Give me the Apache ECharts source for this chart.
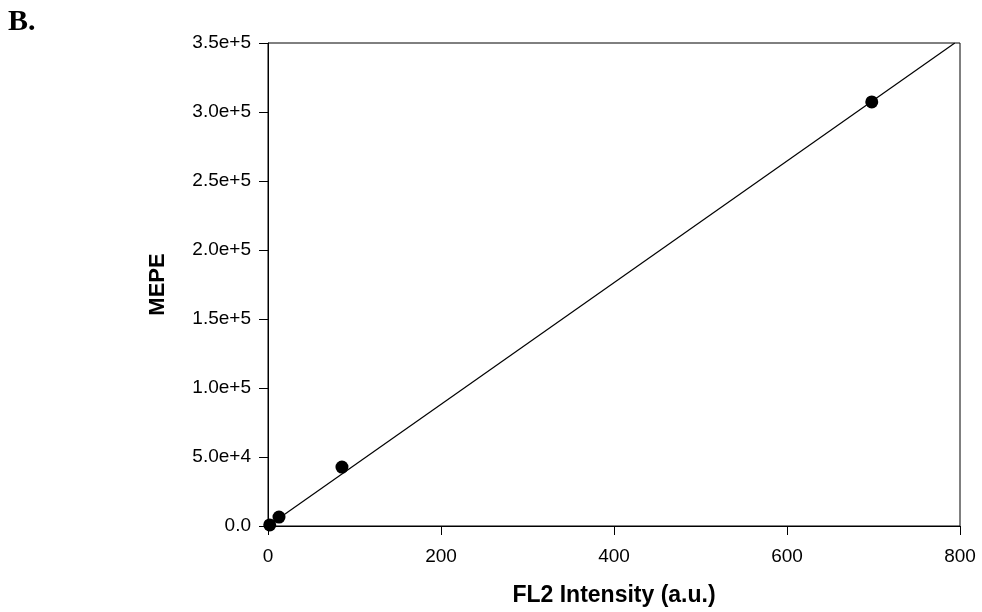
<!DOCTYPE html>
<html><head><meta charset="utf-8">
<script src="https://cdn.jsdelivr.net/npm/echarts@6/dist/echarts.min.js"></script>
<style>html,body{margin:0;padding:0;background:#fff}#c{width:982px;height:612px;}</style>
</head><body>
<div id="c"></div>
<script>
var pointsX = [2, 12.7, 85.5, 698];
var pointsY = [800, 6500, 42700, 307300];
var fitX = [0, 794];
var fitY = [0, 350000];
var xTicks = [0, 200, 400, 600, 800];
var yTickLabels = ['0.0','5.0e+4','1.0e+5','1.5e+5','2.0e+5','2.5e+5','3.0e+5','3.5e+5'];

var chart = echarts.init(document.getElementById('c'));
var font = '"Liberation Sans", Arial, sans-serif';
chart.setOption({
  animation:false,
  graphic:[{type:'text',left:8,top:7,style:{text:'B.',font:'bold 30px "Liberation Serif", "Times New Roman", serif',fill:'#000'}}],
  grid:{left:268,top:43,width:692,height:484,show:true,borderColor:'#000',borderWidth:1},
  xAxis:{type:'value',min:0,max:800,interval:200,
    name:'FL2 Intensity (a.u.)',nameLocation:'middle',nameGap:58,
    nameTextStyle:{fontFamily:font,fontWeight:'bold',fontSize:23,color:'#000'},
    axisLine:{lineStyle:{color:'#000'}},axisTick:{length:9,lineStyle:{color:'#000'}},
    axisLabel:{fontFamily:font,fontSize:19,color:'#000',margin:21},
    splitLine:{show:false}},
  yAxis:{type:'value',min:0,max:350000,interval:50000,
    name:'MEPE',nameLocation:'middle',nameGap:99,
    nameTextStyle:{fontFamily:font,fontWeight:'bold',fontSize:22,color:'#000'},
    axisLine:{show:true,lineStyle:{color:'#000'}},axisTick:{show:true,length:9,lineStyle:{color:'#000'}},
    axisLabel:{fontFamily:font,fontSize:19,color:'#000',margin:17,
      formatter:function(v){return yTickLabels[Math.round(v/50000)];}},
    splitLine:{show:false}},
  series:[
    {type:'line',data:fitX.map(function(x,i){return [x,fitY[i]];}),symbol:'none',
      lineStyle:{color:'#000',width:1.2},z:2},
    {type:'scatter',data:pointsX.map(function(x,i){return [x,pointsY[i]];}),
      symbol:'circle',symbolSize:13,itemStyle:{color:'#000',opacity:1},z:3}
  ]
});
</script>
</body></html>
